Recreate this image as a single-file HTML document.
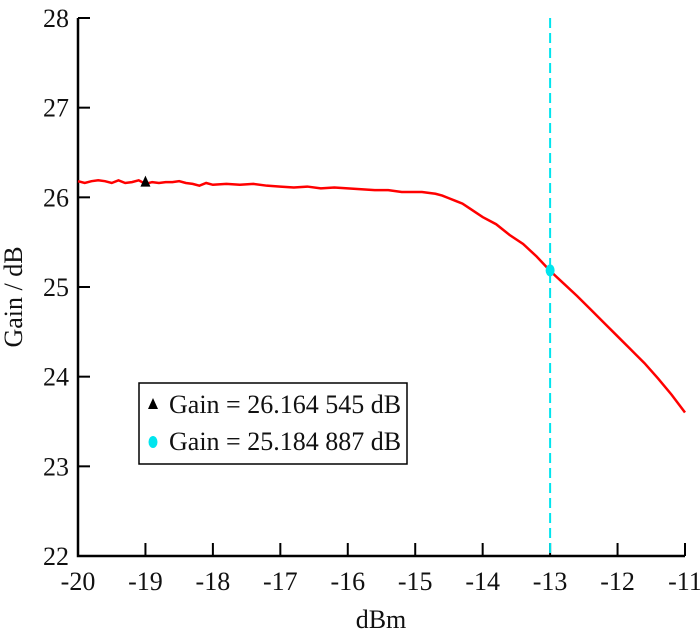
<!DOCTYPE html>
<html><head><meta charset="utf-8"><style>
body{margin:0;background:#fff;}
svg text{font-family:"Liberation Serif",serif;fill:#111;}
</style></head><body>
<svg width="700" height="636" viewBox="0 0 700 636">
<g id="axes"></g>
<g id="marks"></g>
</svg>
<script>
const xTicks=[-20,-19,-18,-17,-16,-15,-14,-13,-12,-11];
const yTicks=[22,23,24,25,26,27,28];
const pin=[-20,-19.9,-19.8,-19.7,-19.6,-19.5,-19.4,-19.3,-19.2,-19.1,-19,-18.9,-18.8,-18.7,-18.6,-18.5,-18.4,-18.3,-18.2,-18.1,-18,-17.8,-17.6,-17.4,-17.2,-17,-16.8,-16.6,-16.4,-16.2,-16,-15.8,-15.6,-15.4,-15.2,-15,-14.9,-14.8,-14.7,-14.6,-14.5,-14.4,-14.3,-14.2,-14.1,-14,-13.8,-13.6,-13.4,-13.2,-13,-12.8,-12.6,-12.4,-12.2,-12,-11.8,-11.6,-11.4,-11.2,-11];
const gain=[26.18,26.16,26.18,26.19,26.18,26.16,26.19,26.16,26.17,26.19,26.15,26.17,26.16,26.17,26.17,26.18,26.16,26.15,26.13,26.16,26.14,26.15,26.14,26.15,26.13,26.12,26.11,26.12,26.10,26.11,26.10,26.09,26.08,26.08,26.06,26.06,26.06,26.05,26.04,26.02,25.99,25.96,25.93,25.88,25.83,25.78,25.70,25.58,25.48,25.34,25.18,25.04,24.90,24.75,24.60,24.45,24.30,24.15,23.98,23.80,23.60];
const markerA=[-19,26.164545];
const markerB=[-13,25.184887];
const legendLabels=["Gain = 26.164 545 dB","Gain = 25.184 887 dB"];
const L=78,R=685,T=18,B=556;
const xs=v=>L+(v+20)/9*(R-L);
const ys=v=>B-(v-22)/6*(B-T);
const NS="http://www.w3.org/2000/svg";
const ax=document.getElementById('axes'),mk=document.getElementById('marks');
function el(t,a,p){const e=document.createElementNS(NS,t);for(const k in a)e.setAttribute(k,a[k]);p.appendChild(e);return e;}
let e=el('path',{d:`M${L},${T} V${B} H${R}`,stroke:'#000','stroke-width':2.5,fill:'none'},ax);

xTicks.forEach(v=>{
 const x=xs(v);
 let t=el('line',{x1:x,x2:x,y1:B,y2:B-13,stroke:'#000','stroke-width':2},ax);
 
 let l=el('text',{x:x,y:B+34,'text-anchor':'middle','font-size':26},ax);l.textContent=v;
 
});
yTicks.forEach(v=>{
 const y=ys(v);
 let t=el('line',{x1:L,x2:L+12,y1:y,y2:y,stroke:'#000','stroke-width':2},ax);
 
 let l=el('text',{x:L-9,y:y+9,'text-anchor':'end','font-size':26},ax);l.textContent=v;
 
});
let xt=el('text',{x:381,y:628,'text-anchor':'middle','font-size':26},ax);xt.textContent='dBm';

let yt=el('text',{x:0,y:0,'text-anchor':'middle','font-size':26,transform:`translate(22,${(T+B)/2+10}) rotate(-90)`},ax);yt.textContent='Gain / dB';

let vl=el('line',{x1:xs(markerB[0]),x2:xs(markerB[0]),y1:T,y2:B,stroke:'#00e5ee','stroke-width':2,'stroke-dasharray':'10,5'},mk);

let ln=el('polyline',{points:pin.map((p,i)=>xs(p)+','+ys(gain[i])).join(' '),stroke:'#ff0000','stroke-width':2.5,fill:'none'},mk);

const ax1=xs(markerA[0]),ay1=ys(markerA[1]);
let tri=el('path',{d:`M${ax1},${ay1-7} L${ax1-5},${ay1+4} L${ax1+5},${ay1+4}Z`,fill:'#000'},mk);

let cb=el('ellipse',{cx:xs(markerB[0]),cy:ys(markerB[1]),rx:4.5,ry:6,fill:'#00e5ee'},mk);

let lg=el('rect',{x:139,y:383,width:268,height:81,fill:'#fff',stroke:'#000','stroke-width':1.5},mk);

let lt=el('path',{d:'M153,398 L148,409 L158,409Z',fill:'#000'},mk);

let lc=el('ellipse',{cx:153,cy:442,rx:4.5,ry:6,fill:'#00e5ee'},mk);

legendLabels.forEach((s,i)=>{
 let t=el('text',{x:169,y:413+i*37,'font-size':26},mk);t.textContent=s;
 
});
</script>
</body></html>
